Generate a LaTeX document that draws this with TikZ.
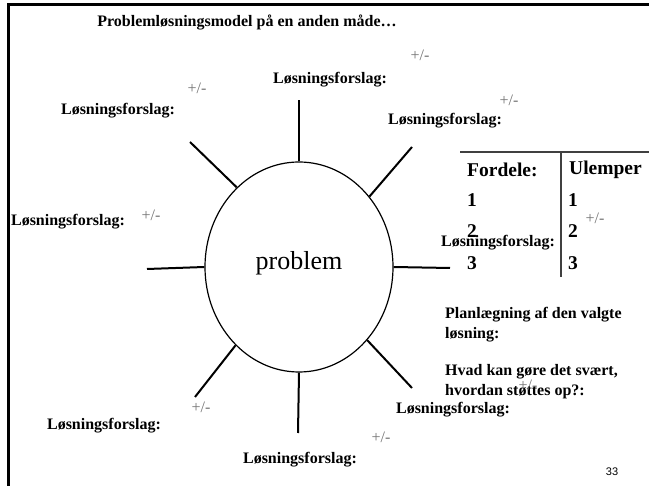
\documentclass[tikz,border=0pt]{standalone}
\usepackage{fontspec}
\setmainfont{Liberation Serif}
\newfontfamily\arialfont{Liberation Sans}
\usetikzlibrary{shapes.geometric}
\begin{document}
\begin{tikzpicture}[x=1pt,y=-1pt,
  losn/.style={inner sep=0pt,font=\fontsize{16}{16}\selectfont\bfseries},
  pm/.style={inner sep=0pt,text=black!55,font=\fontsize{16}{16}\selectfont},
  spoke/.style={line width=2pt},
  tabtxt/.style={inner sep=0pt,anchor=west,font=\fontsize{19.5}{19.5}\selectfont\bfseries},
  plan/.style={inner sep=0pt,anchor=west,font=\fontsize{16}{16}\selectfont\bfseries},
  tabline/.style={line width=1.5pt,draw=black!75}]
\useasboundingbox (0,0) rectangle (649,486);
% frame
\draw[line width=3pt] (8,486) -- (8,5) -- (649,5);
% title
\node[losn] (title) at (247,22) {Problemløsningsmodel på en anden måde…};
% ellipse
\node[draw,ellipse,line width=1.2pt,minimum width=188pt,minimum height=210pt,inner sep=0pt] (prob) at (299,267) {};
\node[inner sep=0pt,font=\fontsize{26}{26}\selectfont] (probtxt) at (299,263) {problem};
% spoke outer ends
\coordinate (sT) at (299,100);
\coordinate (sUL) at (190,142);
\coordinate (sUR) at (412,147);
\coordinate (sL) at (147,269);
\coordinate (sR) at (450,268);
\coordinate (sLR) at (412,388);
\coordinate (sLL) at (195,397);
\coordinate (sB) at (298,433);
\draw[spoke] (prob.90) -- (sT);
\draw[spoke] (prob.128) -- (sUL);
\draw[spoke] (prob.45) -- (sUR);
\draw[spoke] (prob.west) -- (sL);
\draw[spoke] (prob.east) -- (sR);
\draw[spoke] (prob.313) -- (sLR);
\draw[spoke] (prob.231) -- (sLL);
\draw[spoke] (prob.270) -- (sB);
% table
\coordinate (tl) at (460,152);
\coordinate (tr) at (649,152);
\coordinate (vt) at (561,152);
\coordinate (vb) at (561,277);
\draw[tabline] (tl) -- (tr);
\draw[tabline] (vt) -- (vb);
\node[tabtxt] (fordele) at (467,170) {Fordele:};
\node[tabtxt] (ulemper) at (569,170) {Ulemper};
\node[tabtxt] (f1) at (467,200) {1};
\node[tabtxt] (f2) at (467,231) {2};
\node[tabtxt] (f3) at (467,263) {3};
\node[tabtxt] (u1) at (568,200) {1};
\node[tabtxt] (u2) at (568,231) {2};
\node[tabtxt] (u3) at (568,263) {3};
% planning text
\node[plan] (p1) at (445,315) {Planlægning af den valgte};
\node[plan] (p2) at (445,335) {løsning:};
\node[plan] (p3) at (445,372) {Hvad kan gøre det svært,};
\node[plan] (p4) at (445,392) {hvordan støttes op?:};
% labels
\node[losn] (l1) at (330,80) {Løsningsforslag:};
\node[losn] (l2) at (118,111) {Løsningsforslag:};
\node[losn] (l3) at (445,121) {Løsningsforslag:};
\node[losn] (l4) at (68,222) {Løsningsforslag:};
\node[losn] (l5) at (498,243) {Løsningsforslag:};
\node[losn] (l6) at (453,410) {Løsningsforslag:};
\node[losn] (l7) at (104,426) {Løsningsforslag:};
\node[losn] (l8) at (300,460) {Løsningsforslag:};
% +/-
\node[pm] (pm1) at (420,55) {+/-};
\node[pm] (pm2) at (197,88) {+/-};
\node[pm] (pm3) at (509,100) {+/-};
\node[pm] (pm4) at (151,215) {+/-};
\node[pm] (pm5) at (595,218) {+/-};
\node[pm] (pm6) at (528,385) {+/-};
\node[pm] (pm7) at (201,407) {+/-};
\node[pm] (pm8) at (381,437) {+/-};
% page number
\node[inner sep=0pt,font=\arialfont\fontsize{11}{11}\selectfont] (pg) at (612,472) {33};
\end{tikzpicture}
\end{document}
